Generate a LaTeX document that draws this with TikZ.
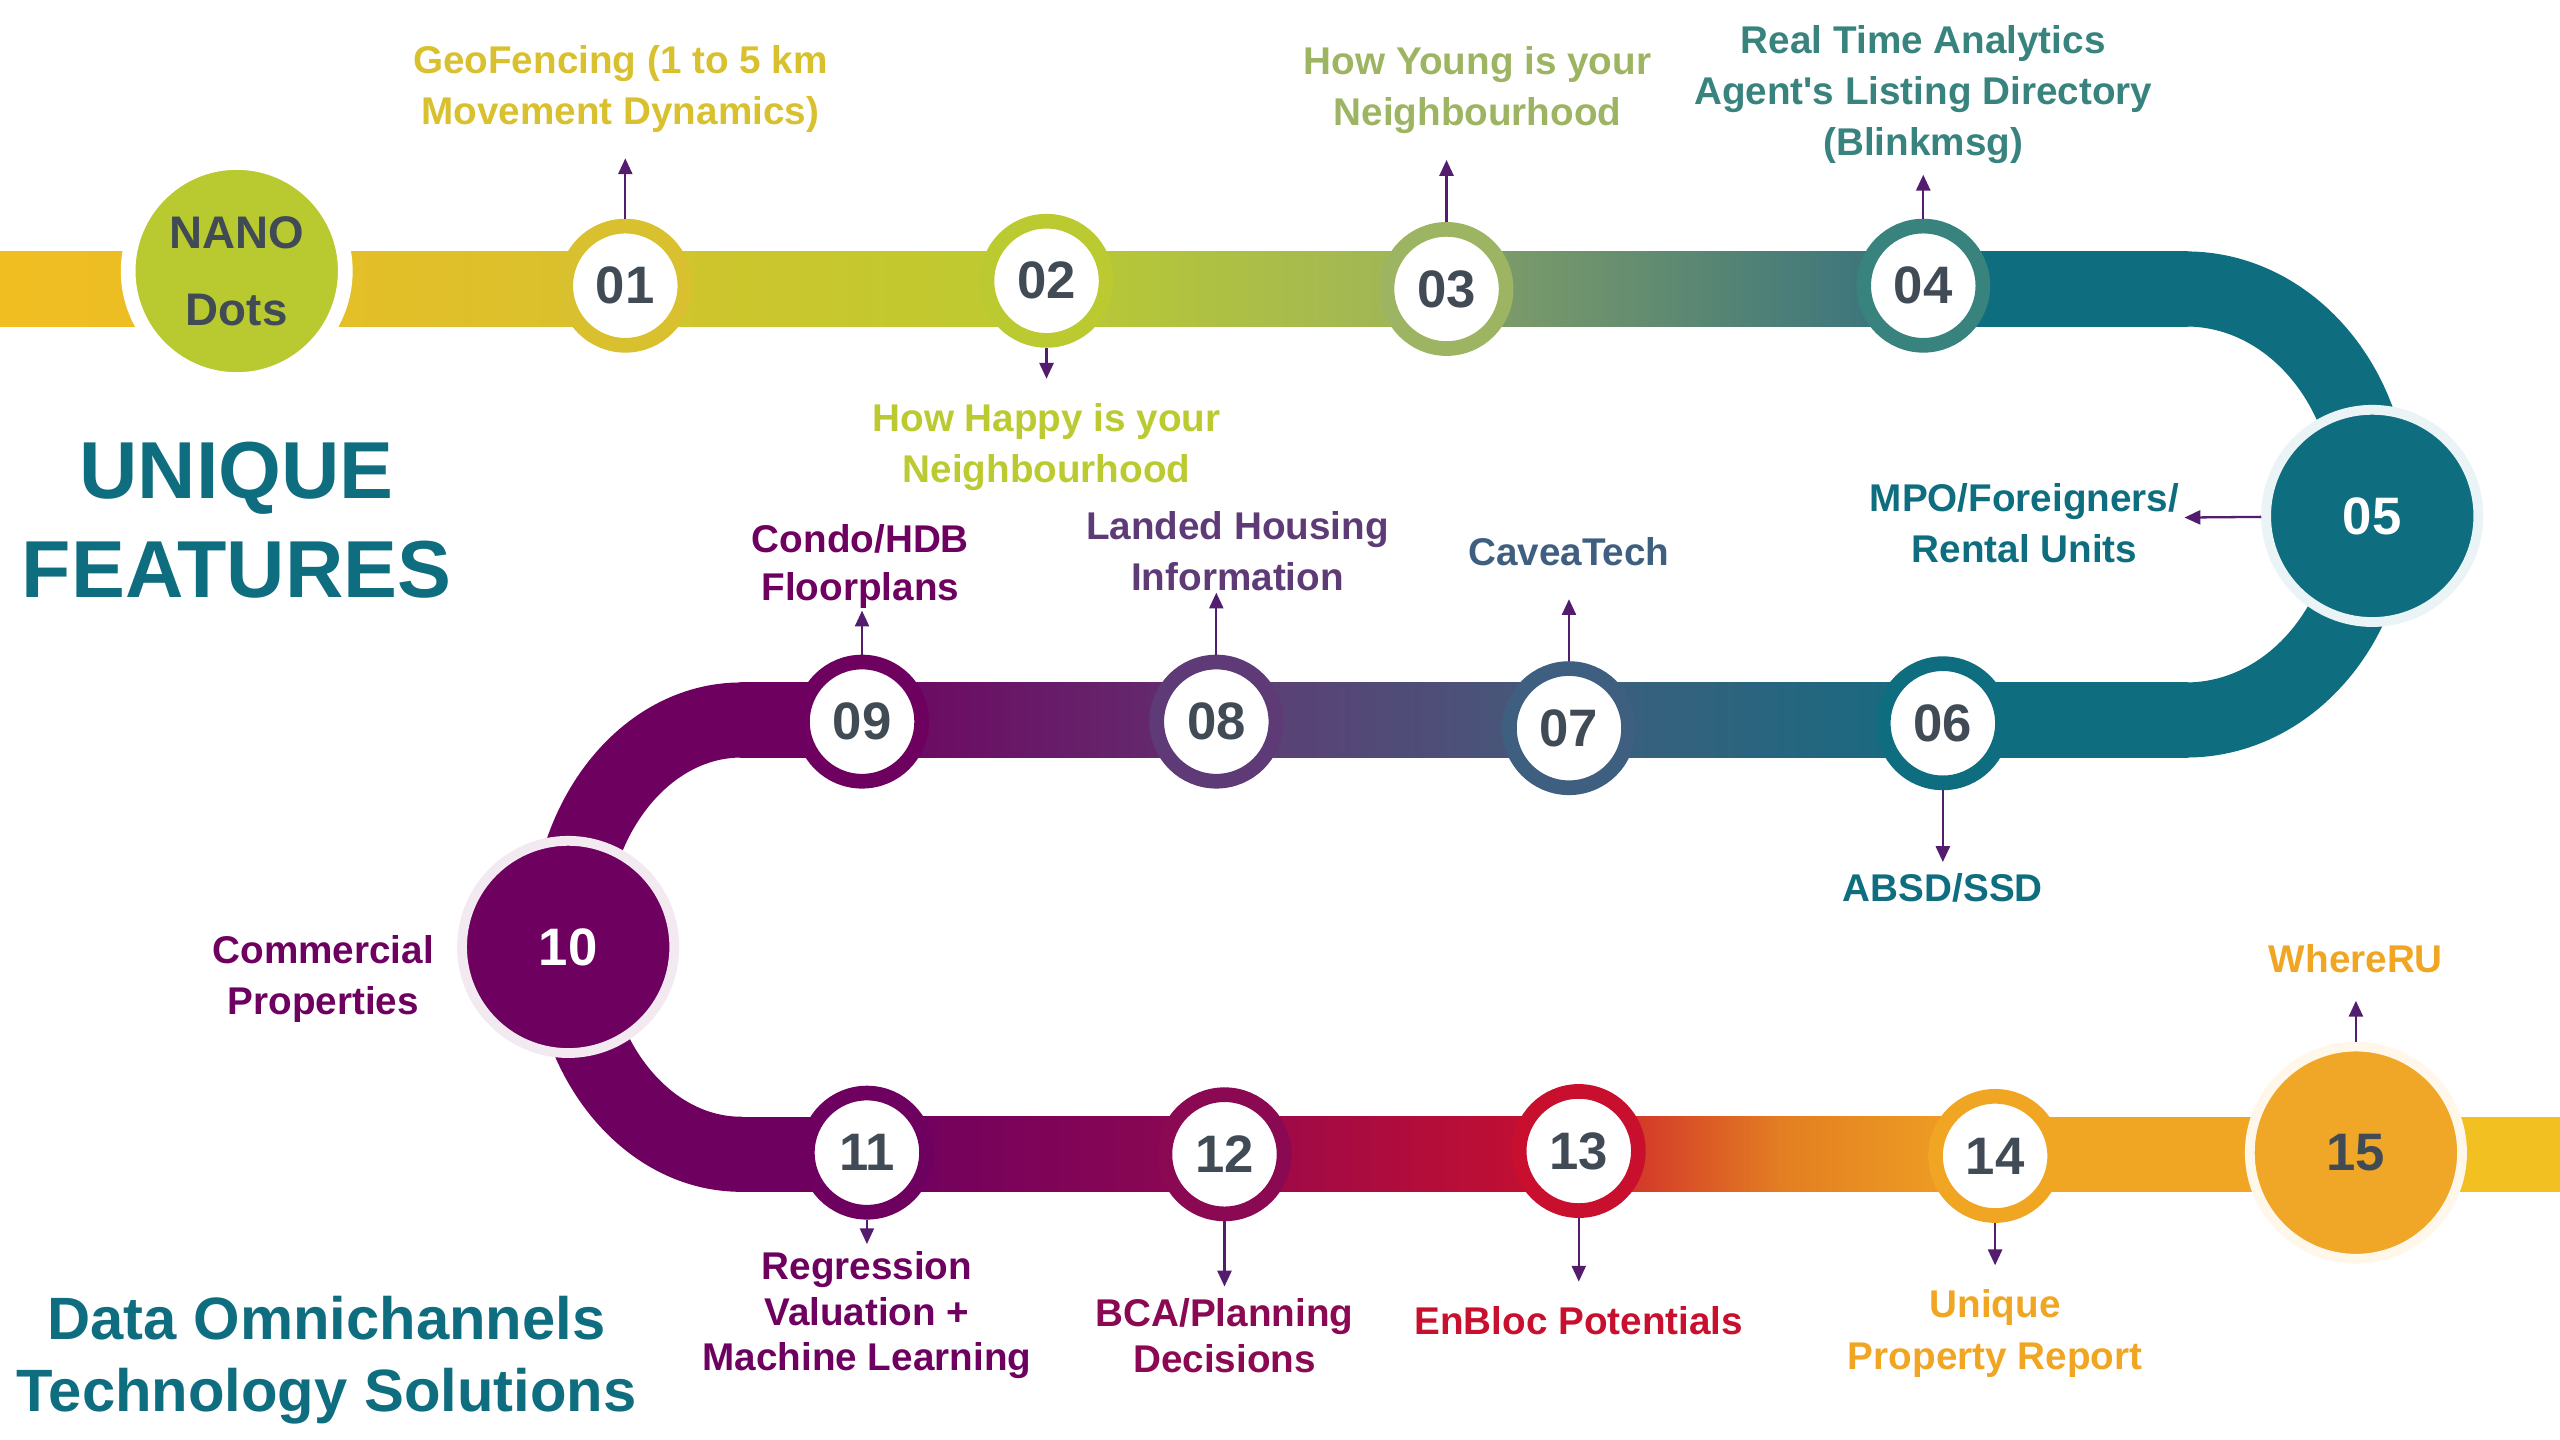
\documentclass[tikz,border=0pt]{standalone}
\usepackage{fontspec}
\setmainfont{Liberation Sans}
\usetikzlibrary{arrows.meta}
\usetikzlibrary{positioning}

\definecolor{numgray}{HTML}{414B55}
\definecolor{arrowpurple}{HTML}{531C6E}
\definecolor{mteal}{HTML}{0F6D80}
\definecolor{plum}{HTML}{6E0060}
\definecolor{nanogreen}{HTML}{B9C930}
\definecolor{paleteal}{HTML}{EAF3F5}
\definecolor{paleplum}{HTML}{F2E9F1}
\definecolor{paleorange}{HTML}{FFF7EA}
\definecolor{orangefill}{HTML}{F0A626}
\definecolor{c01}{HTML}{D8C02E}
\definecolor{c02}{HTML}{BCCA31}
\definecolor{c03}{HTML}{9DB562}
\definecolor{c04}{HTML}{38837E}
\definecolor{c07}{HTML}{3F5F80}
\definecolor{c08}{HTML}{5E3B77}
\definecolor{c12}{HTML}{8B0852}
\definecolor{c13}{HTML}{C8102E}
\definecolor{c14}{HTML}{F0A623}
% road shades
\definecolor{g01}{HTML}{F1BE21}
\definecolor{g02}{HTML}{D2C42C}
\definecolor{g03}{HTML}{9CB35C}
\definecolor{g04}{HTML}{85A066}
\definecolor{g05}{HTML}{33707F}
\definecolor{g06}{HTML}{3F5E7D}
\definecolor{g07}{HTML}{156B80}
\definecolor{g08}{HTML}{5E3C75}
\definecolor{g09}{HTML}{445A7A}
\definecolor{g10}{HTML}{6E0461}
\definecolor{g11}{HTML}{62306F}
\definecolor{g12}{HTML}{8F0850}
\definecolor{g13}{HTML}{98094B}
\definecolor{g14}{HTML}{CD1F2C}
\definecolor{g15}{HTML}{E37E22}
\definecolor{g16}{HTML}{F2C020}

\newlength\px
\setlength\px{0.16327mm}
\newcommand\numfont{\fontsize{15}{18}\selectfont\bfseries}
\newcommand\labfont{\fontsize{11}{14.4}\selectfont\bfseries}

\begin{document}
\begin{tikzpicture}[x=0.16327mm, y=-0.16327mm,
    band/.style={line width=46*\px},
    ring/.style={circle, fill=white, draw=#1, line width=9*\px, minimum size=73*\px,
      inner sep=0pt, text=numgray, font=\numfont},
    bigdot/.style 2 args={circle, fill=#1, draw=#2, line width=6*\px, minimum size=130*\px,
      inner sep=0pt, font=\numfont},
    lab/.style={text=#1, font=\labfont, align=center, inner sep=0pt},
    pointer/.style={draw=arrowpurple, line width=0.65pt, -{Triangle[length=4.5pt,width=4pt]}}]

  \useasboundingbox (0,0) rectangle (1568,882);

  % top row of the road
  \shade[left color=g01, right color=c01] (0,154) rectangle (384,200);
  \shade[left color=g02, right color=c02] (383,154) rectangle (642,200);
  \shade[left color=c02, right color=g03] (641,154) rectangle (887,200);
  \shade[left color=g04, right color=g05] (886,154) rectangle (1179,200);
  \fill[mteal] (1178,154) rectangle (1340,200);
  \draw[band, draw=mteal] (1339,177) arc[start angle=-90, end angle=90, x radius=114, y radius=132];

  % middle row
  \fill[mteal] (1189,418) rectangle (1340,464);
  \shade[left color=g06, right color=g07] (960,418) rectangle (1190,464);
  \shade[left color=g08, right color=g09] (744,418) rectangle (961,464);
  \shade[left color=g10, right color=g11] (527,418) rectangle (745,464);
  \fill[plum] (453,418) rectangle (528,464);
  \draw[band, draw=plum] (454,441) arc[start angle=-90, end angle=-270, x radius=106, y radius=133];

  % bottom row
  \fill[plum] (453,684) rectangle (532,730);
  \shade[left color=plum, right color=g12] (531,684) rectangle (751,730);
  \shade[left color=g13, right color=c13] (750,684) rectangle (968,730);
  \shade[left color=g14, right color=g15] (967,684) rectangle (1091,730);
  \shade[left color=g15, right color=c14] (1090,684) rectangle (1223,730);
  \fill[c14] (1222,684) rectangle (1444,730);
  \fill[g16] (1443,684) rectangle (1568,730);

  % stops
  \node[circle, fill=nanogreen, draw=white, line width=9*\px, minimum size=133*\px,
    text=numgray, font=\fontsize{13}{22}\selectfont\bfseries, align=center] (nano) at (145,166) {NANO\\Dots};
  \node[ring=c01] (n01) at (383,175) {01};
  \node[ring=c02] (n02) at (641,172) {02};
  \node[ring=c03] (n03) at (886,177) {03};
  \node[ring=c04] (n04) at (1178,175) {04};
  \node[bigdot={mteal}{paleteal}, text=white] (n05) at (1453,316) {05};
  \node[ring=mteal] (n06) at (1190,443) {06};
  \node[ring=c07] (n07) at (961,446) {07};
  \node[ring=c08] (n08) at (745,442) {08};
  \node[ring=plum] (n09) at (528,442) {09};
  \node[bigdot={plum}{paleplum}, text=white] (n10) at (348,580) {10};
  \node[ring=plum] (n11) at (531,706) {11};
  \node[ring=c12] (n12) at (750,707) {12};
  \node[ring=c13] (n13) at (967,705) {13};
  \node[ring=c14] (n14) at (1222,708) {14};
  \node[bigdot={orangefill}{paleorange}, text=numgray] (n15) at (1443,706) {15};

  % labels
  \node[lab=c01] (t01) at (380,54.5) {GeoFencing (1 to 5 km\\Movement Dynamics)};
  \node[lab=c02] (t02) at (641,274) {How Happy is your\\Neighbourhood};
  \node[lab=c03] (t03) at (905,55) {How Young is your\\Neighbourhood};
  \node[lab=c04] (t04) at (1178,58) {Real Time Analytics\\Agent\textquotesingle s Listing Directory\\(Blinkmsg)};
  \node[lab=mteal] (t05) at (1240,320.5) {MPO/Foreigners/\\Rental Units};
  \node[lab=mteal] (t06) at (1190,544) {ABSD/SSD};
  \node[lab=c07] (t07) at (961,338) {CaveaTech};
  \node[lab=c08] (t08) at (758,337.5) {Landed Housing\\Information};
  \node[lab=plum, font=\fontsize{11}{13.5}\selectfont\bfseries] (t09) at (527,347) {Condo/HDB\\Floorplans};
  \node[lab=plum] (t10) at (198,599.5) {Commercial\\Properties};
  \node[lab=plum, font=\fontsize{11}{13}\selectfont\bfseries] (t11) at (531,805.5) {Regression\\Valuation +\\Machine Learning};
  \node[lab=c12, font=\fontsize{11}{13}\selectfont\bfseries] (t12) at (750,818) {BCA/Planning\\Decisions};
  \node[lab=c13] (t13) at (967,809) {EnBloc Potentials};
  \node[lab=c14, font=\fontsize{11}{14.8}\selectfont\bfseries] (t14) at (1222,817) {Unique\\Property Report};
  \node[lab=c14] (t15) at (1443,587) {WhereRU};

  % titles
  \node[text=mteal, font=\fontsize{23}{28.3}\selectfont\bfseries, align=center, inner sep=0pt]
    (title) at (145,318.5) {UNIQUE\\FEATURES};
  \node[text=mteal, font=\fontsize{17}{20.5}\selectfont\bfseries, align=center, inner sep=0pt]
    (subtitle) at (200,833) {Data Omnichannels\\Technology Solutions};

  % arrow tips
  \coordinate (a01) at (383,97);
  \coordinate (a02) at (641,232);
  \coordinate (a03) at (886,98);
  \coordinate (a04) at (1178,107);
  \coordinate (a05) at (1338,317);
  \coordinate (a06) at (1190,528);
  \coordinate (a07) at (961,367);
  \coordinate (a08) at (745,363);
  \coordinate (a09) at (528,374);
  \coordinate (a11) at (531,762);
  \coordinate (a12) at (750,788);
  \coordinate (a13) at (967,785);
  \coordinate (a14) at (1222,775);
  \coordinate (a15) at (1443,613);

  \foreach \s in {01,02,03,04,05,06,07,08,09,11,12,13,14,15}
    \draw[pointer] (n\s) -- (a\s);

\end{tikzpicture}
\end{document}
